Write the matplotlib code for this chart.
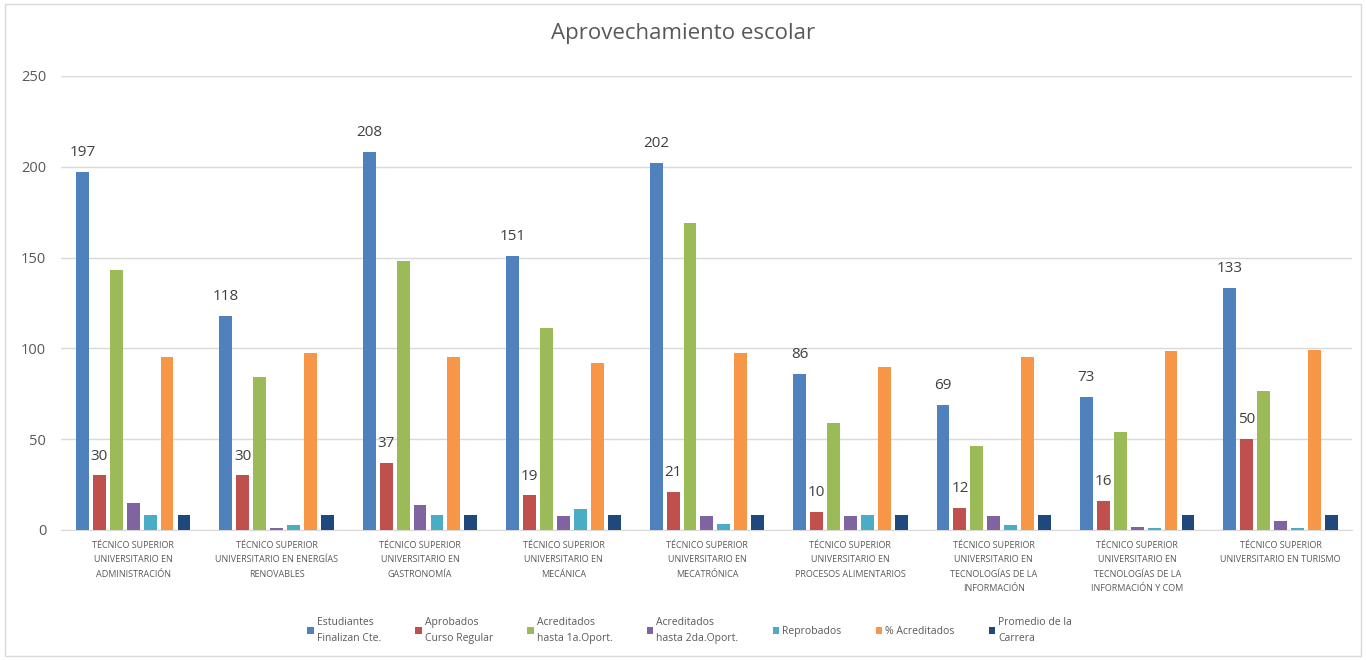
import matplotlib
matplotlib.use("Agg")
import matplotlib.pyplot as plt
import numpy as np
from matplotlib.patches import Rectangle

plt.rcParams["font.family"] = ["Open Sans", "DejaVu Sans"]

TEXT_COLOR = "#595959"
GRID_COLOR = "#d9d9d9"

categories = [
    "TÉCNICO SUPERIOR\nUNIVERSITARIO EN\nADMINISTRACIÓN",
    "TÉCNICO SUPERIOR\nUNIVERSITARIO EN ENERGÍAS\nRENOVABLES",
    "TÉCNICO SUPERIOR\nUNIVERSITARIO EN\nGASTRONOMÍA",
    "TÉCNICO SUPERIOR\nUNIVERSITARIO EN\nMECÁNICA",
    "TÉCNICO SUPERIOR\nUNIVERSITARIO EN\nMECATRÓNICA",
    "TÉCNICO SUPERIOR\nUNIVERSITARIO EN\nPROCESOS ALIMENTARIOS",
    "TÉCNICO SUPERIOR\nUNIVERSITARIO EN\nTECNOLOGÍAS DE LA\nINFORMACIÓN",
    "TÉCNICO SUPERIOR\nUNIVERSITARIO EN\nTECNOLOGÍAS DE LA\nINFORMACIÓN Y COM",
    "TÉCNICO SUPERIOR\nUNIVERSITARIO EN TURISMO",
]

estudiantes = [197, 118, 208, 151, 202, 86, 69, 73, 133]
aprobados = [30, 30, 37, 19, 21, 10, 12, 16, 50]
acreditados_1a = [143, 84, 148, 111, 169, 59, 46, 54, 76.5]
acreditados_2da = [15, 1, 14, 7.5, 7.5, 7.5, 7.5, 1.8, 5]
reprobados = [8, 2.5, 8, 11.5, 3.5, 8.2, 2.6, 1, 1]
pct_acreditados = [95, 97.6, 95, 92, 97.6, 89.5, 95, 98.5, 99.3]
promedio = [8.3, 8.3, 8.3, 8.3, 8.3, 8.3, 8.3, 8.3, 8.3]

series = [
    ("Estudiantes\nFinalizan Cte.", estudiantes, "#4F81BD"),
    ("Aprobados\nCurso Regular", aprobados, "#C0504D"),
    ("Acreditados\nhasta 1a.Oport.", acreditados_1a, "#9BBB59"),
    ("Acreditados\nhasta 2da.Oport.", acreditados_2da, "#8064A2"),
    ("Reprobados", reprobados, "#4BACC6"),
    ("% Acreditados", pct_acreditados, "#F79646"),
    ("Promedio de la\nCarrera", promedio, "#1F497D"),
]
labelled = {0, 1}

fig = plt.figure(figsize=(13.66, 6.6), dpi=100)
fig.patch.set_facecolor("white")
fig.patches.append(Rectangle((0.004, 0.006), 0.992, 0.988, transform=fig.transFigure,
                             fill=False, edgecolor=GRID_COLOR, linewidth=1.0))

ax = fig.add_axes([0.045, 0.197, 0.945, 0.688])
x = np.arange(len(categories))
slot = 0.118
width = 0.09
offsets = (np.arange(len(series)) - (len(series) - 1) / 2) * slot

for i, (name, values, color) in enumerate(series):
    bars = ax.bar(x + offsets[i], values, width, color=color, label=name, zorder=3)
    if i in labelled:
        for rect, v in zip(bars, values):
            ax.annotate(f"{v:g}", (rect.get_x() + rect.get_width() / 2, v),
                        xytext=(0, 14), textcoords="offset points",
                        ha="center", va="center", fontsize=11, color="#404040")

ax.set_xlim(-0.5, len(categories) - 0.5)
ax.set_ylim(0, 250)
ax.set_yticks(np.arange(0, 251, 50))
ax.yaxis.grid(True, color=GRID_COLOR, linewidth=1.0, zorder=0)
ax.set_axisbelow(True)
for side in ("top", "right", "left"):
    ax.spines[side].set_visible(False)
ax.spines["bottom"].set_color(GRID_COLOR)
ax.tick_params(axis="y", length=0, labelsize=10.5, labelcolor=TEXT_COLOR, pad=11)
ax.tick_params(axis="x", length=0, labelsize=6.5, labelcolor=TEXT_COLOR, pad=8)
ax.set_xticks(x)
ax.set_xticklabels(categories, linespacing=1.75)

fig.suptitle("Aprovechamiento escolar", y=0.965, fontsize=16, color=TEXT_COLOR)

leg = fig.legend(loc="upper center", bbox_to_anchor=(0.505, 0.08), ncol=7, frameon=False,
                 fontsize=7.5, labelcolor=TEXT_COLOR, handlelength=0.6, handleheight=0.6,
                 handletextpad=0.3, columnspacing=3.3)
for t in leg.get_texts():
    t.set_linespacing(1.7)

fig.savefig("out.png", dpi=100, facecolor="white")
